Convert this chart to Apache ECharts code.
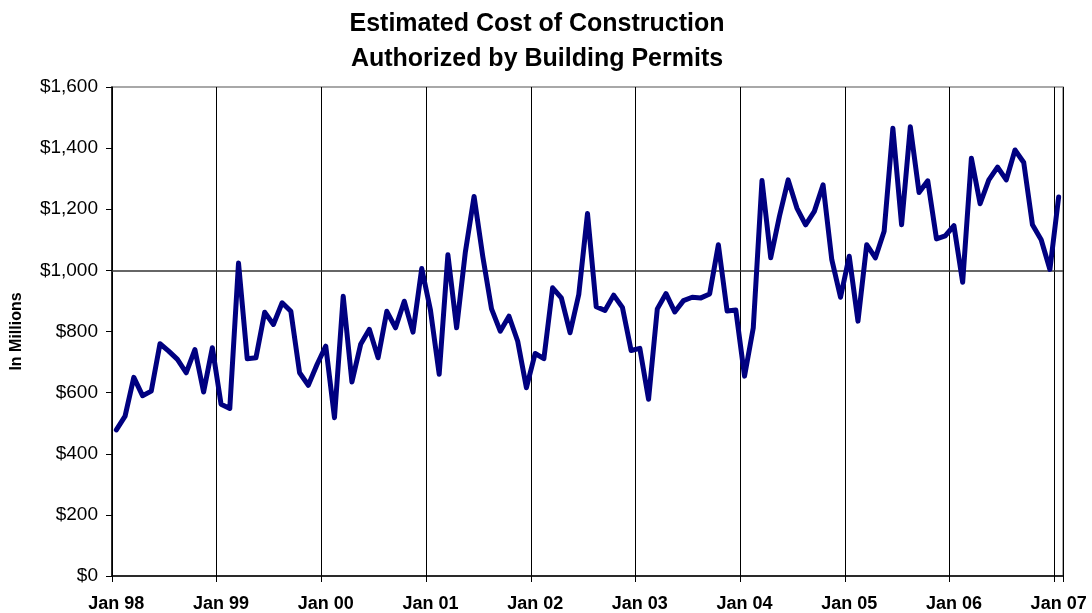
<!DOCTYPE html>
<html>
<head>
<meta charset="utf-8">
<script src="https://cdn.jsdelivr.net/npm/echarts@6/dist/echarts.min.js"></script>
<style>html,body{margin:0;padding:0;background:#fff;}#chart{width:1092px;height:613px;}</style>
</head>
<body>
<div id="chart"></div>
<script>
// Monthly estimated cost (millions of dollars), Jan 98 .. Jan 07
const monthNames = ['Jan','Feb','Mar','Apr','May','Jun','Jul','Aug','Sep','Oct','Nov','Dec'];
const yearSuffixes = ['98','99','00','01','02','03','04','05','06','07'];
const costs = [
  478, 523, 650, 590, 605, 760, 736, 709, 665, 741, 602, 747,   // 1998
  562, 548, 1024, 711, 714, 863, 823, 894, 866, 665, 624, 692,  // 1999
  752, 518, 915, 635, 758, 807, 714, 866, 812, 899, 798, 1006,  // 2000
  870, 660, 1051, 812, 1060, 1242, 1045, 874, 801, 850, 768, 616, // 2001
  728, 711, 943, 910, 796, 921, 1186, 881, 869, 919, 879, 738,  // 2002
  745, 578, 874, 924, 864, 901, 912, 910, 923, 1084, 867, 870,  // 2003
  654, 812, 1294, 1041, 1177, 1296, 1204, 1149, 1193, 1280, 1035, 912, // 2004
  1046, 834, 1084, 1041, 1128, 1465, 1149, 1470, 1255, 1293, 1103, 1113, // 2005
  1146, 961, 1367, 1218, 1296, 1338, 1296, 1394, 1353, 1149, 1100, 1003, // 2006
  1240                                                           // 2007
];
const yTicks = [0, 200, 400, 600, 800, 1000, 1200, 1400, 1600];

const categories = [];
for (let i = 0; i < costs.length; i++) {
  categories.push(monthNames[i % 12] + ' ' + yearSuffixes[Math.floor(i / 12)]);
}

const chart = echarts.init(document.getElementById('chart'), null, {renderer: 'canvas'});
const font = 'Arial, "Liberation Sans", Helvetica, sans-serif';
chart.setOption({
  animation: false,
  backgroundColor: '#ffffff',
  title: {
    text: 'Estimated Cost of Construction\nAuthorized by Building Permits',
    left: 532,
    top: 2,
    textAlign: 'center',
    textStyle: {fontFamily: font, fontSize: 25, fontWeight: 'bold', color: '#000', lineHeight: 35}
  },
  grid: {
    left: 112, right: 29, top: 87, bottom: 36,
    show: true, borderColor: '#8c8c8c', borderWidth: 1.5, backgroundColor: 'transparent'
  },
  xAxis: {
    type: 'category',
    data: categories,
    boundaryGap: true,
    axisLine: {show: true, lineStyle: {color: '#000', width: 1.5}},
    axisTick: {show: true, interval: 11, length: 6, lineStyle: {color: '#000', width: 1}},
    axisLabel: {interval: 11, margin: 19, fontFamily: font, fontSize: 18, fontWeight: 'bold', color: '#000'},
    splitLine: {show: true, interval: 11, lineStyle: {color: '#000', width: 1}}
  },
  yAxis: {
    type: 'value',
    min: yTicks[0], max: yTicks[yTicks.length - 1], interval: 200,
    name: 'In Millions',
    nameLocation: 'middle',
    nameGap: 87,
    nameRotate: 90,
    nameTextStyle: {fontFamily: font, fontSize: 16, fontWeight: 'bold', color: '#000'},
    axisLine: {show: true, lineStyle: {color: '#000', width: 1.5}},
    axisTick: {show: true, length: 6, lineStyle: {color: '#000', width: 1}},
    axisLabel: {
      margin: 14, fontFamily: font, fontSize: 19, color: '#000',
      formatter: v => '$' + v.toLocaleString('en-US')
    },
    splitLine: {show: false}
  },
  series: [{
    type: 'line',
    data: costs,
    symbol: 'none',
    lineStyle: {color: '#000080', width: 5, join: 'round', cap: 'round'},
    itemStyle: {color: '#000080'},
    z: 3,
    markLine: {
      silent: true,
      symbol: 'none',
      label: {show: false},
      lineStyle: {color: '#333', width: 1.5, type: 'solid'},
      data: [{yAxis: 1000}],
      z: 1
    }
  }]
});
</script>
</body>
</html>
